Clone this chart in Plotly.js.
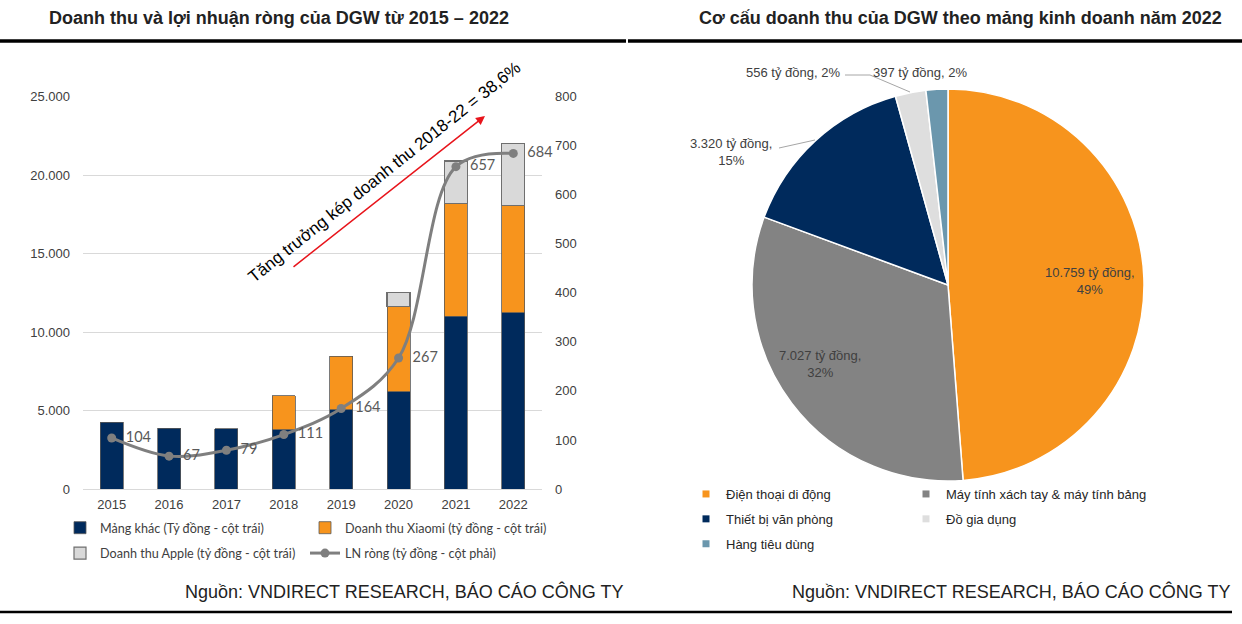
<!DOCTYPE html>
<html><head><meta charset="utf-8">
<script src="https://cdn.plot.ly/plotly-3.0.1.min.js"></script>
<style>html,body{margin:0;padding:0;background:#fff}#chart{width:1242px;height:624px}</style>
</head><body><div id="chart"></div>
<script>
// ---- data ----
const years = ['2015','2016','2017','2018','2019','2020','2021','2022'];
const otherRev  = [4240, 3860, 3840, 3770, 5040, 6210, 11000, 11230];
const xiaomiRev = [null, null, null, 2180, 3430, 5400, 7200, 6820];
const appleRev  = [null, null, null, null, null, 930, 2690, 3980];
const netProfit = [104, 67, 79, 111, 164, 267, 657, 684];

const pieLabels = ['Điện thoại di động','Máy tính xách tay & máy tính bảng','Thiết bị văn phòng','Đồ gia dụng','Hàng tiêu dùng'];
const pieValues = [10759, 7027, 3320, 556, 397];
const piePct    = [49, 32, 15, 2, 2];

const leftTitle = 'Doanh thu và lợi nhuận ròng của DGW từ 2015 – 2022';
const rightTitle = 'Cơ cấu doanh thu của DGW theo mảng kinh doanh năm 2022';
const sourceText = 'Nguồn: VNDIRECT RESEARCH, BÁO CÁO CÔNG TY';
const cagrText = 'Tăng trưởng kép doanh thu 2018-22 = 38,6%';

// ---- helpers ----
const W = 1242, H = 624;
const px = x => x / W;
const py = y => 1 - y / H;
const fmt = v => v.toLocaleString('de-DE');
const NB = '\u00A0';

const navy = '#002a5c', orange = '#f7941d', lgray = '#d9d9d9', mgray = '#7f7f7f', bluegray = '#6b97ad';
const pieColors = [orange, '#838383', navy, '#dedede', bluegray];
const txt = '#404040';
const font = 'Liberation Sans, Arial, sans-serif';
const cfont = 'Lato, Carlito, sans-serif';

const traces = [
  {type:'bar', x:years, y:otherRev, name:'Mảng khác (Tỷ đồng - cột trái)', legend:'legend', legendgroup:'a',
   marker:{color:navy, line:{color:'#595959', width:0.8}}, width:0.4},
  {type:'bar', x:years, y:xiaomiRev, name:'Doanh thu Xiaomi (tỷ đồng - cột trái)', legend:'legend3', legendgroup:'b',
   marker:{color:orange, line:{color:'#595959', width:0.8}}, width:0.4},
  {type:'bar', x:years, y:appleRev, name:'Doanh thu Apple (tỷ đồng - cột trái)', legend:'legend', legendgroup:'c',
   marker:{color:lgray, line:{color:'#6f6f6f', width:1.2}}, width:0.4},
  {type:'scatter', x:years, y:netProfit, yaxis:'y2', name:'LN ròng (tỷ đồng - cột phải)', legend:'legend3', legendgroup:'d',
   mode:'lines+markers+text', line:{color:mgray, width:3, shape:'spline', smoothing:1},
   marker:{color:mgray, size:9}, text:netProfit.map(v => NB + NB + v), textposition:'middle right',
   textfont:{family:cfont, size:14.5, color:'#595959'}, cliponaxis:false},
  {type:'pie', labels:pieLabels, values:pieValues, sort:false, direction:'clockwise', rotation:0,
   marker:{colors:pieColors, line:{color:'#ffffff', width:1.5}},
   textinfo:'none', showlegend:false,
   domain:{x:[px(752), px(1144)], y:[py(481), py(89)]}}
];
// legend entries for the pie slices, in two columns
pieLabels.forEach((lab, i) => {
  traces.push({type:'scatter', x:[null], y:[null], mode:'markers', name:lab,
    legend: i % 2 === 0 ? 'legend2' : 'legend4', legendgroup:'p' + i,
    marker:{symbol:'square', size:7, color:pieColors[i]}, hoverinfo:'skip'});
});

const ann = (x, y, text, size, extra) => Object.assign({xref:'paper', yref:'paper', x:px(x), y:py(y),
  xanchor:'center', yanchor:'middle', text, showarrow:false, font:{family:font, size, color:txt}}, extra || {});

const annotations = [
  ann(279, 18, '<b>'+leftTitle+'</b>', 18, {font:{family:font, size:18, color:'#222'}}),
  ann(960, 18, '<b>'+rightTitle+'</b>', 18, {font:{family:font, size:18, color:'#222'}}),
  ann(625, 591, sourceText, 18, {xanchor:'right', font:{family:font, size:18, color:'#222'}}),
  ann(1232, 591, sourceText, 18, {xanchor:'right', font:{family:font, size:18, color:'#222'}}),
  ann(384, 172, cagrText, 17, {textangle:-38.6, font:{family:font, size:17, color:'#000'}}),
  {xref:'paper', yref:'paper', x:px(485), y:py(116), ax:-193, ay:152, text:'', showarrow:true,
   arrowhead:2, arrowsize:1.2, arrowwidth:1.5, arrowcolor:'#e8141b'},
  ann(1090, 281, fmt(pieValues[0])+' tỷ đồng,<br>'+piePct[0]+'%', 13),
  ann(820, 364, fmt(pieValues[1])+' tỷ đồng,<br>'+piePct[1]+'%', 13),
  ann(731, 152, fmt(pieValues[2])+' tỷ đồng,<br>'+piePct[2]+'%', 13),
  ann(793, 72, fmt(pieValues[3])+' tỷ đồng, '+piePct[3]+'%', 13),
  ann(920, 72, fmt(pieValues[4])+' tỷ đồng, '+piePct[4]+'%', 13)
];

const shapes = [
  {type:'line', xref:'paper', yref:'paper', x0:0, x1:px(626), y0:py(41), y1:py(41), line:{color:'#000', width:3.5}},
  {type:'line', xref:'paper', yref:'paper', x0:px(628), x1:1, y0:py(41), y1:py(41), line:{color:'#000', width:3.5}},
  {type:'line', xref:'paper', yref:'paper', x0:0, x1:px(1232), y0:py(612), y1:py(612), line:{color:'#000', width:2.5}},
  // leader lines
  {type:'line', xref:'paper', yref:'paper', x0:px(779), x1:px(815), y0:py(148), y1:py(140), line:{color:'#a6a6a6', width:1}},
  {type:'line', xref:'paper', yref:'paper', x0:px(845), x1:px(870), y0:py(75), y1:py(75), line:{color:'#a6a6a6', width:1}},
  {type:'line', xref:'paper', yref:'paper', x0:px(870), x1:px(910), y0:py(75), y1:py(92), line:{color:'#a6a6a6', width:1}}
];

const legBase = (x, y, f, gap) => ({orientation:'v', xref:'container', yref:'container', x:px(x), y:py(y),
  xanchor:'left', yanchor:'top', traceorder:'grouped', tracegroupgap:gap, font:f, bgcolor:'rgba(0,0,0,0)'});
const barLegFont = {family:cfont, size:12.6, color:'#404040'};
const pieLegFont = {family:font, size:13, color:'#262626'};

const layout = {
  width:W, height:H, margin:{l:0, r:0, t:0, b:0, autoexpand:false},
  paper_bgcolor:'#fff', plot_bgcolor:'#fff',
  separators:',.', barmode:'stack', showlegend:true,
  font:{family:font, color:txt},
  xaxis:{domain:[px(83), px(542)], type:'category', showgrid:false, zeroline:false, showline:false,
    ticks:'', tickfont:{family:font, size:13, color:txt}, ticklabelstandoff:6, fixedrange:true},
  yaxis:{domain:[py(489), py(96.5)], range:[0,25000], dtick:5000, tickformat:',d',
    showgrid:true, gridcolor:'#d9d9d9', gridwidth:1, zeroline:true, zerolinecolor:'#d9d9d9', showline:false,
    ticks:'', tickfont:{family:font, size:13, color:txt}, ticklabelstandoff:12},
  yaxis2:{overlaying:'y', side:'right', range:[0,800], dtick:100, showgrid:false, zeroline:false,
    ticks:'', tickfont:{family:font, size:13, color:txt}, ticklabelstandoff:12},
  legend: legBase(60, 513, barLegFont, 6),
  legend3: legBase(305, 513, barLegFont, 6),
  legend2: legBase(686, 479, pieLegFont, 5),
  legend4: legBase(906, 479, pieLegFont, 5),
  annotations, shapes
};

Plotly.newPlot('chart', traces, layout, {displayModeBar:false, staticPlot:true});
</script>
</body></html>
